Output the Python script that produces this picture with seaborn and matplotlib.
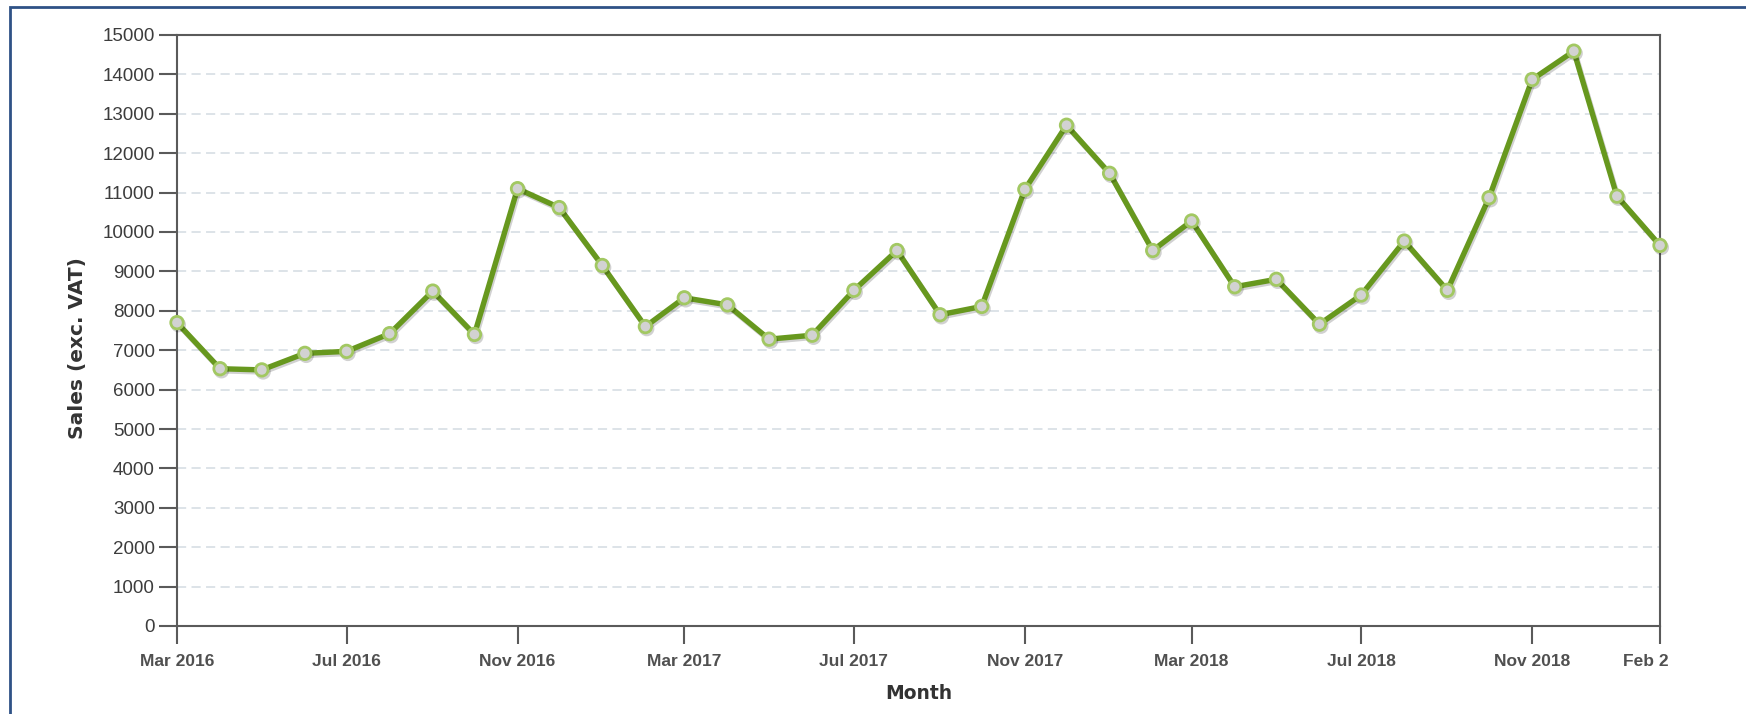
import numpy as np
import pandas as pd
import matplotlib
matplotlib.use("Agg")
import matplotlib.pyplot as plt
import matplotlib.patches as mpatches
import matplotlib.patheffects as pe
import matplotlib.transforms as mtransforms
import seaborn as sns

# ---- data ----
months = pd.date_range("2016-03-01", periods=36, freq="MS")
sales = [7700, 6530, 6500, 6920, 6970, 7420, 8500, 7400, 11100, 10620,
         9150, 7600, 8330, 8150, 7280, 7380, 8520, 9530, 7900, 8110,
         11080, 12710, 11490, 9530, 10280, 8610, 8800, 7660, 8400, 9770,
         8520, 10870, 13870, 14590, 10910, 9660]
tick_dates = pd.to_datetime(["2016-03-01", "2016-07-01", "2016-11-01", "2017-03-01",
                             "2017-07-01", "2017-11-01", "2018-03-01", "2018-07-01",
                             "2018-11-01", "2019-02-01"])
tick_labels = ["Mar 2016", "Jul 2016", "Nov 2016", "Mar 2017", "Jul 2017",
               "Nov 2017", "Mar 2018", "Jul 2018", "Nov 2018", "Feb 2"]
y_ticks = list(range(0, 15001, 1000))

df = pd.DataFrame({"Month": months, "Sales": sales})

sns.set_theme(style="white")
plt.rcParams["font.family"] = ["Liberation Sans", "DejaVu Sans"]

W, H = 1746, 714
fig = plt.figure(figsize=(W / 100, H / 100), dpi=100)
fig.patch.set_facecolor("white")
ax = fig.add_axes([177 / W, 1 - 626 / H, (1660 - 177) / W, (626 - 35) / H])

line_color = "#67981e"
sns.lineplot(data=df, x="Month", y="Sales", ax=ax, color=line_color,
             linewidth=3.9, marker="o", markersize=9,
             markerfacecolor="#d2d2d2", markeredgecolor="#a2c862",
             markeredgewidth=2.0, zorder=3)
for l in ax.lines:
    l.set_path_effects([pe.SimpleLineShadow(offset=(1, -1.5), shadow_color="#000000", alpha=0.18),
                        pe.Normal()])
    l.set_clip_on(False)

ax.set_xlim(months[0], months[-1])
ax.set_ylim(0, 15000)
ax.set_yticks(y_ticks)
ax.set_yticklabels([str(v) for v in y_ticks])
ax.set_xticks(tick_dates)
ax.set_xticklabels(tick_labels)

# grid
ax.yaxis.grid(True, color="#d3dbe2", linestyle=(0, (6, 3.5)), linewidth=1.1)
ax.xaxis.grid(False)
ax.set_axisbelow(True)

for s in ax.spines.values():
    s.set_visible(True)
    s.set_color("#5a5a5a")
    s.set_linewidth(1.5)

ax.tick_params(axis="y", direction="out", length=13, width=1.5, color="#5a5a5a",
               labelsize=13.5, labelcolor="#3c3c3c", pad=3, left=True)
ax.tick_params(axis="x", direction="out", length=13, width=1.5, color="#5a5a5a",
               labelsize=12.5, labelcolor="#505050", pad=7, bottom=True)
for t in ax.get_xticklabels():
    t.set_fontweight("bold")

# last label is clipped in the reference ("Feb 2") and sits slightly left
last = ax.get_xticklabels()[-1]
last.set_transform(last.get_transform() + mtransforms.ScaledTranslation(-14 / 100, 0, fig.dpi_scale_trans))

ax.set_xlabel("Month", fontsize=13.5, fontweight="bold", color="#333333",
              family=["DejaVu Sans"], labelpad=11)
ax.set_ylabel("Sales (exc. VAT)", fontsize=14.5, fontweight="bold", color="#333333",
              family=["DejaVu Sans"])
ax.yaxis.set_label_coords(-0.061, 0.47)

# outer border (top & left visible, rest off-canvas)
border = mpatches.Rectangle((10 / W, -0.05), 1.1, 1 - 7 / H + 0.05, transform=fig.transFigure,
                            fill=False, edgecolor="#2f5286", linewidth=2.0, clip_on=False)
fig.patches.append(border)

fig.savefig("out.png", dpi=100)
